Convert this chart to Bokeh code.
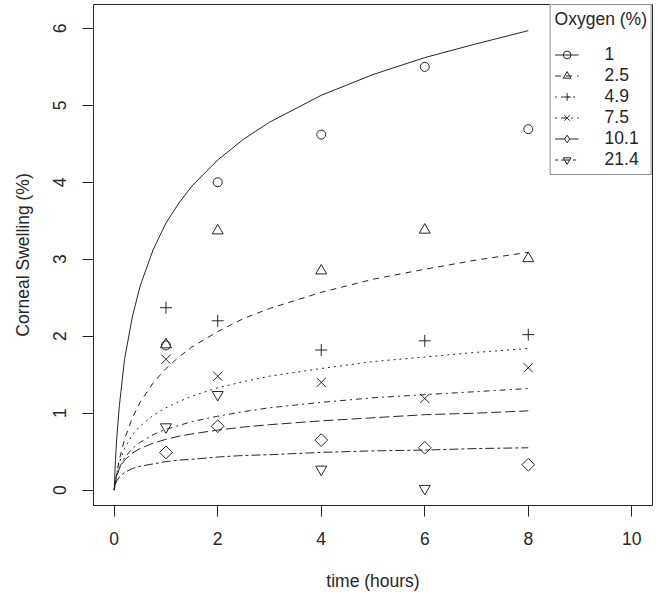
from bokeh.plotting import figure
from bokeh.models import Range1d, FixedTicker, Legend, LegendItem
from bokeh.embed import file_html
from bokeh.resources import INLINE
import math

# ---- data ----
oxygen_labels = ["1", "2.5", "4.9", "7.5", "10.1", "21.4"]

obs_time = [1, 2, 4, 6, 8]
obs_time_21_4 = [1, 2, 4, 6]
obs_1 = [1.88, 4.00, 4.62, 5.50, 4.69]
obs_2_5 = [1.89, 3.37, 2.85, 3.38, 3.01]
obs_4_9 = [2.37, 2.20, 1.82, 1.94, 2.02]
obs_7_5 = [1.70, 1.48, 1.40, 1.19, 1.59]
obs_10_1 = [0.49, 0.83, 0.65, 0.55, 0.33]
obs_21_4 = [0.82, 1.24, 0.27, 0.02]

fit_time = [0, 0.025, 0.05, 0.1, 0.2, 0.35, 0.5, 0.75, 1, 1.25, 1.5, 2, 2.5, 3, 4, 5, 6, 7, 8]
fit_1 = [0, 0.40, 0.68, 1.10, 1.70, 2.25, 2.65, 3.12, 3.47, 3.73, 3.95, 4.29, 4.56, 4.78, 5.13, 5.40, 5.62, 5.80, 5.97]
fit_2_5 = [0, 0.12, 0.22, 0.40, 0.66, 0.94, 1.14, 1.39, 1.58, 1.73, 1.86, 2.06, 2.23, 2.36, 2.57, 2.74, 2.87, 2.99, 3.09]
fit_4_9 = [0, 0.13, 0.22, 0.36, 0.54, 0.72, 0.83, 0.97, 1.07, 1.15, 1.22, 1.33, 1.41, 1.48, 1.58, 1.67, 1.73, 1.79, 1.84]
fit_7_5 = [0, 0.10, 0.18, 0.29, 0.42, 0.54, 0.62, 0.72, 0.79, 0.84, 0.89, 0.96, 1.02, 1.07, 1.14, 1.20, 1.24, 1.28, 1.32]
fit_10_1 = [0, 0.12, 0.19, 0.28, 0.39, 0.48, 0.54, 0.61, 0.66, 0.70, 0.73, 0.78, 0.82, 0.85, 0.90, 0.94, 0.98, 1.00, 1.03]
fit_21_4 = [0, 0.08, 0.12, 0.17, 0.23, 0.28, 0.31, 0.34, 0.37, 0.39, 0.40, 0.43, 0.45, 0.46, 0.49, 0.51, 0.52, 0.54, 0.55]

x_ticks = [0, 2, 4, 6, 8, 10]
y_ticks = [0, 1, 2, 3, 4, 5, 6]

FONT = "Liberation Sans"
INK = "#262626"

p = figure(frame_width=559, frame_height=501,
           min_border_left=93, min_border_right=4, min_border_top=4, min_border_bottom=85,
           x_range=Range1d(-0.4, 10.4), y_range=Range1d(-0.2, 6.31),
           output_backend="svg", toolbar_location=None, tools="")
p.xgrid.visible = False
p.ygrid.visible = False
p.outline_line_color = INK
p.outline_line_width = 1
p.background_fill_color = "white"
p.border_fill_color = "white"

for ax, ticks in ((p.xaxis[0], x_ticks), (p.yaxis[0], y_ticks)):
    ax.ticker = FixedTicker(ticks=ticks)
    ax.axis_line_color = None
    ax.minor_tick_line_color = None
    ax.major_tick_in = 0
    ax.major_tick_out = 11
    ax.major_tick_line_color = INK
    ax.major_label_text_font = FONT
    ax.major_label_text_font_size = "17.5px"
    ax.major_label_text_color = INK
    ax.axis_label_text_font = FONT
    ax.axis_label_text_font_size = "17.5px"
    ax.axis_label_text_font_style = "normal"
    ax.axis_label_text_color = INK

p.xaxis.axis_label = "time (hours)"
p.xaxis.major_label_standoff = 15
p.xaxis.axis_label_standoff = 23
p.yaxis.axis_label = "Corneal Swelling (%)"
p.yaxis.major_label_orientation = "vertical"
p.yaxis.major_label_standoff = 16
p.yaxis.axis_label_standoff = 18

series = [
    (fit_1, obs_time, obs_1, "solid", "circle", 9, 0, "circle"),
    (fit_2_5, obs_time, obs_2_5, "6 5", "triangle", 11, 0, "triangle"),
    (fit_4_9, obs_time, obs_4_9, "2 4", "cross", 12, 0, "cross"),
    (fit_7_5, obs_time, obs_7_5, "2 4 6 4", "x", 13, 0, "x"),
    (fit_10_1, obs_time, obs_10_1, "10 4", "square", 9, math.pi / 4, "diamond"),
    (fit_21_4, obs_time_21_4, obs_21_4, "3 3 9 3", "inverted_triangle", 11, 0, "inverted_triangle"),
]

items = []
for label, (fit, tx, ty, dash, marker, size, ang, key_marker) in zip(oxygen_labels, series):
    lr = p.line(fit_time, fit, line_color=INK, line_width=1, line_dash=dash)
    sr = p.scatter(tx, ty, marker=marker, size=size, angle=ang,
                   fill_color=None, line_color=INK, line_width=1)
    if key_marker != marker:
        # legend key only (R's pch 5 diamond), same data, hidden in the plot
        kr = p.scatter(tx, ty, marker=key_marker, size=size,
                       fill_color=None, line_color=INK, line_width=1, visible=False)
        items.append(LegendItem(label=label, renderers=[lr, kr]))
    else:
        items.append(LegendItem(label=label, renderers=[lr, sr]))

legend = Legend(items=items, location="top_right", title="Oxygen (%)")
legend.title_text_font = FONT
legend.title_text_font_size = "17.5px"
legend.title_text_font_style = "normal"
legend.title_text_color = INK
legend.title_standoff = 14
legend.label_text_font = FONT
legend.label_text_font_size = "17.5px"
legend.label_text_color = INK
legend.border_line_color = INK
legend.border_line_width = 1
legend.background_fill_color = "white"
legend.background_fill_alpha = 1
legend.margin = 0
legend.padding = 4
legend.spacing = 0
legend.label_height = 19
legend.glyph_height = 19
legend.glyph_width = 24
legend.label_standoff = 26
p.add_layout(legend)

open("out.html", "w").write(file_html(p, INLINE))
